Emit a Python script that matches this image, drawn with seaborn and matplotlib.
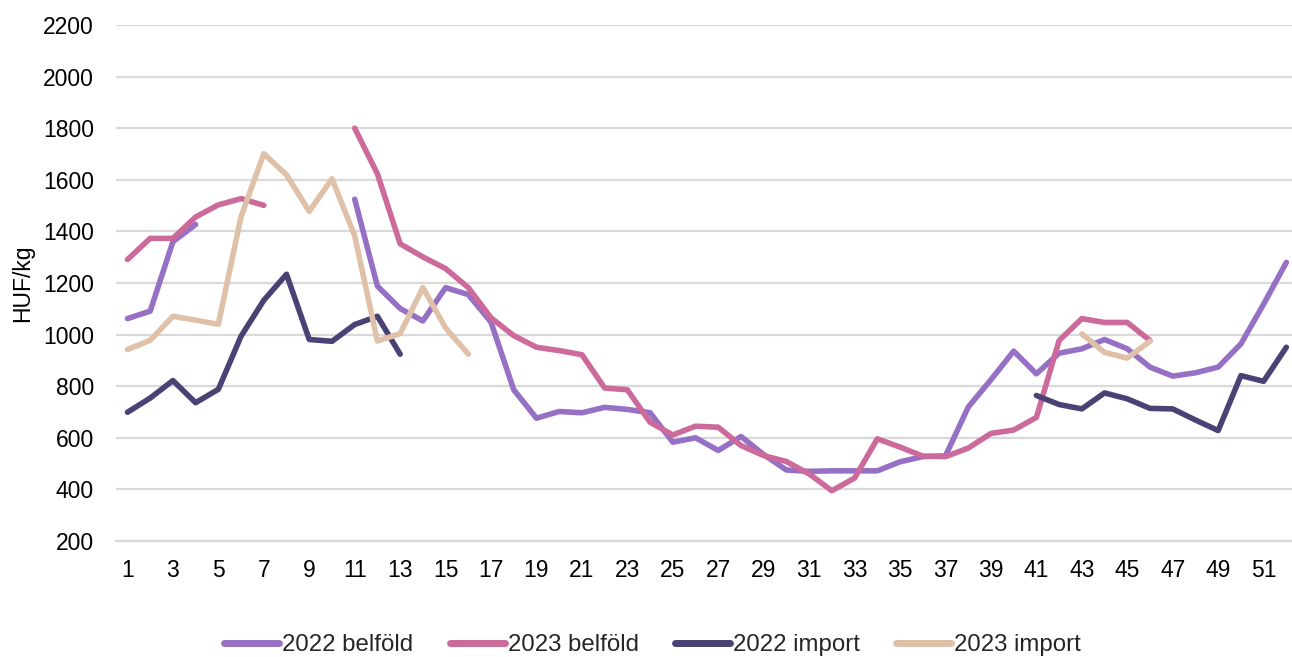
import numpy as np
import pandas as pd
import matplotlib
matplotlib.use("Agg")
import matplotlib.pyplot as plt
from matplotlib.ticker import FixedLocator
from matplotlib.lines import Line2D
import seaborn as sns

# ---- data (HUF/kg by week) ----
weeks_2022_belfold = [1, 2, 3, 4] + list(range(11, 53))
vals_2022_belfold = [1062, 1091, 1360, 1427,
                     1525, 1188, 1101, 1053, 1182, 1155, 1048, 786, 676, 702,
                     697, 718, 710, 697, 583, 600, 551, 605, 535, 475,
                     470, 472, 472, 472, 507, 527, 530, 719, 825, 936,
                     848, 928, 945, 981, 945, 874, 839, 852, 874, 964,
                     1118, 1280]

weeks_2023_belfold = list(range(1, 8)) + list(range(11, 47))
vals_2023_belfold = [1291, 1373, 1373, 1456, 1503, 1527, 1501,
                     1800, 1623, 1352, 1301, 1256, 1182, 1065, 996, 951, 938,
                     922, 793, 786, 660, 611, 645, 641, 570, 531, 508,
                     460, 395, 444, 596, 564, 529, 527, 560, 617, 630,
                     679, 977, 1062, 1047, 1047, 977]

weeks_2022_import = list(range(1, 14)) + list(range(41, 53))
vals_2022_import = [699, 754, 822, 736, 788, 994, 1133, 1234, 981, 974, 1039, 1071, 924,
                    764, 729, 712, 774, 751, 714, 712, 669, 628, 841, 819, 951]

weeks_2023_import = list(range(1, 17)) + list(range(43, 47))
vals_2023_import = [942, 978, 1071, 1056, 1040, 1458, 1701, 1619, 1478, 1604, 1383, 975,
                    1004, 1182, 1026, 924,
                    1003, 931, 909, 974]

series_names = ["2022 belföld", "2023 belföld", "2022 import", "2023 import"]
colors = ["#9670c4", "#cc6a9c", "#4b4175", "#dfc0a8"]
y_ticks = list(range(200, 2201, 200))
x_tick_labels = list(range(1, 53, 2))

# ---- long-form table with segment ids for gaps ----
rows = []
for name, wk, vl in [(series_names[0], weeks_2022_belfold, vals_2022_belfold),
                     (series_names[1], weeks_2023_belfold, vals_2023_belfold),
                     (series_names[2], weeks_2022_import, vals_2022_import),
                     (series_names[3], weeks_2023_import, vals_2023_import)]:
    seg = 0
    prev = None
    for w, v in zip(wk, vl):
        if prev is not None and w - prev > 1:
            seg += 1
        rows.append({"week": w, "value": v, "series": name, "seg": f"{name}_{seg}"})
        prev = w
df = pd.DataFrame(rows)

sns.set_theme(style="white")
plt.rcParams["font.family"] = ["Liberation Sans", "DejaVu Sans"]
FS = 16.5

fig = plt.figure(figsize=(12.92, 6.57), dpi=100)
left_px, right_px = 116.1, 1297.7
ax = fig.add_axes([left_px / 1292, 1 - 541 / 657, (right_px - left_px) / 1292, (541 - 25) / 657])

sns.lineplot(data=df, x="week", y="value", hue="series", hue_order=series_names,
             palette=colors, units="seg", estimator=None, linewidth=4.0,
             solid_capstyle="round", solid_joinstyle="round", ax=ax, legend=False)

ax.set_xlim(0.5, 52.5)
ax.set_ylim(200, 2200)
ax.set_yticks(y_ticks)
ax.set_yticklabels([str(v) for v in y_ticks], fontsize=FS, color="#000000")
ax.set_xticks(x_tick_labels)
ax.set_xticklabels([str(v) for v in x_tick_labels], fontsize=FS, color="#000000")
ax.xaxis.set_minor_locator(FixedLocator(np.arange(0.5, 53.0, 1.0)))
ax.tick_params(axis="x", which="major", length=0, pad=13)
ax.tick_params(axis="x", which="minor", length=6, width=1.2, color="#d9d9d9", direction="out")
ax.tick_params(axis="y", length=0, pad=16)

ax.grid(axis="y", color="#d9d9d9", linewidth=1.6)
ax.grid(axis="x", visible=False)
ax.set_axisbelow(True)
for s in ["top", "right", "left"]:
    ax.spines[s].set_visible(False)
ax.spines["bottom"].set_color("#d9d9d9")
ax.spines["bottom"].set_linewidth(1.6)

ax.set_xlabel("")
ax.set_ylabel("HUF/kg", fontsize=FS, color="#000000", labelpad=6)

handles = [Line2D([0], [0], color=c, linewidth=5, solid_capstyle="round") for c in colors]
fig.legend(handles, series_names, loc="center", bbox_to_anchor=(0.505, 1 - 645 / 657),
           ncol=4, frameon=False, fontsize=17.3, handlelength=2.3, handletextpad=0.12,
           columnspacing=1.5, borderaxespad=0)

fig.savefig("out.png", dpi=100)
